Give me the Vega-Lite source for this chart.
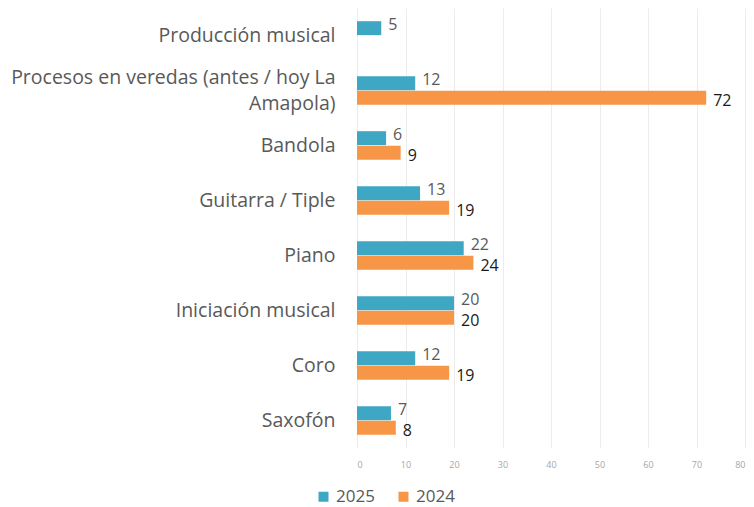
{
  "$schema": "https://vega.github.io/schema/vega-lite/v6.json",
  "autosize": {"type": "none"},
  "padding": {"left": 357, "top": 8, "right": 9, "bottom": 59},
  "width": 388,
  "height": 440,
  "background": "white",
  "config": {
    "font": "Open Sans",
    "view": {"stroke": null}
  },
  "data": {
    "values": [
      {"category": "Producción musical", "year": "2025", "value": 5},
      {"category": "Procesos en veredas (antes / hoy La Amapola)", "year": "2025", "value": 12},
      {"category": "Procesos en veredas (antes / hoy La Amapola)", "year": "2024", "value": 72},
      {"category": "Bandola", "year": "2025", "value": 6},
      {"category": "Bandola", "year": "2024", "value": 9},
      {"category": "Guitarra / Tiple", "year": "2025", "value": 13},
      {"category": "Guitarra / Tiple", "year": "2024", "value": 19},
      {"category": "Piano", "year": "2025", "value": 22},
      {"category": "Piano", "year": "2024", "value": 24},
      {"category": "Iniciación musical", "year": "2025", "value": 20},
      {"category": "Iniciación musical", "year": "2024", "value": 20},
      {"category": "Coro", "year": "2025", "value": 12},
      {"category": "Coro", "year": "2024", "value": 19},
      {"category": "Saxofón", "year": "2025", "value": 7},
      {"category": "Saxofón", "year": "2024", "value": 8}
    ]
  },
  "encoding": {
    "y": {
      "field": "category",
      "type": "nominal",
      "sort": null,
      "scale": {"paddingInner": 0.48, "paddingOuter": 0.24},
      "axis": {
        "title": null,
        "domain": false,
        "ticks": false,
        "labelFontSize": 19.5,
        "labelColor": "#595959",
        "labelPadding": 22,
        "labelLimit": 400,
        "labelLineHeight": 26,
        "labelOffset": {"condition": {"test": "datum.value == 'Procesos en veredas (antes / hoy La Amapola)'", "value": -13}, "value": 0},
        "labelExpr": "datum.label == 'Procesos en veredas (antes / hoy La Amapola)' ? ['Procesos en veredas (antes / hoy La', 'Amapola)'] : datum.label"
      }
    },
    "yOffset": {
      "field": "year",
      "type": "nominal",
      "sort": ["2025", "2024"],
      "scale": {"domain": ["2025", "2024"], "paddingInner": 0.05}
    },
    "x": {
      "field": "value",
      "type": "quantitative",
      "scale": {"domain": [0, 80]},
      "axis": {
        "title": null,
        "values": [0, 10, 20, 30, 40, 50, 60, 70, 80],
        "domain": false,
        "ticks": false,
        "labelFontSize": 9,
        "labelColor": "#a6a6a6",
        "labelPadding": 12,
        "gridColor": "#ececec",
        "gridWidth": 1
      }
    }
  },
  "layer": [
    {
      "mark": {"type": "bar"},
      "encoding": {
        "color": {
          "field": "year",
          "type": "nominal",
          "scale": {"domain": ["2025", "2024"], "range": ["#3da7c4", "#f79646"]},
          "legend": {
            "title": null,
            "orient": "none",
            "legendX": -42,
            "legendY": 480,
            "direction": "horizontal",
            "symbolType": "square",
            "symbolSize": 100,
            "symbolStrokeWidth": 0,
            "labelFontSize": 17,
            "labelColor": "#595959",
            "labelOffset": 4,
            "columnPadding": 20
          }
        }
      }
    },
    {
      "transform": [{"filter": "datum.year === '2025'"}],
      "mark": {"type": "text", "align": "left", "dx": 7, "dy": -3, "fontSize": 16, "baseline": "middle", "color": "#595959"},
      "encoding": {
        "text": {"field": "value", "type": "quantitative"}
      }
    },
    {
      "transform": [{"filter": "datum.year === '2024'"}],
      "mark": {"type": "text", "align": "left", "dx": 7, "dy": 3, "fontSize": 16, "baseline": "middle", "color": "#1a1a1a"},
      "encoding": {
        "text": {"field": "value", "type": "quantitative"}
      }
    }
  ]
}
